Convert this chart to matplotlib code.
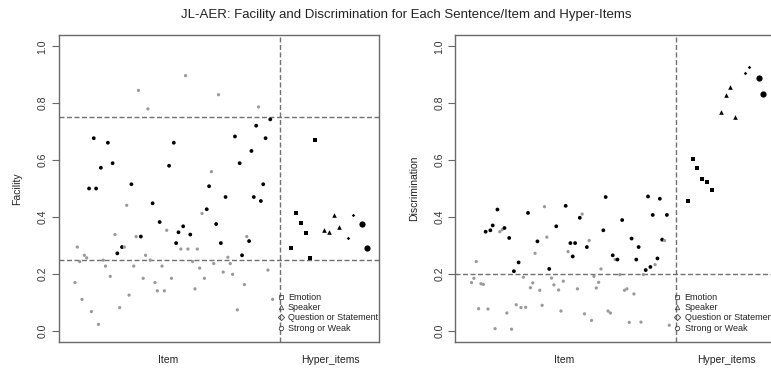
import matplotlib
matplotlib.use("Agg")
import matplotlib.pyplot as plt
from matplotlib.lines import Line2D
import numpy as np

plt.rcParams['font.family'] = ['Liberation Sans', 'DejaVu Sans']

# ---------------- data ----------------
item_facility = [
    0.169, 0.294, 0.243, 0.110, 0.265, 0.256, 0.500, 0.067, 0.677, 0.500,
    0.022, 0.573, 0.248, 0.227, 0.661, 0.191, 0.589, 0.338, 0.272, 0.081,
    0.294, 0.294, 0.441, 0.125, 0.515, 0.227, 0.331, 0.845, 0.331, 0.184,
    0.265, 0.780, 0.248, 0.448, 0.169, 0.140, 0.382, 0.227, 0.140, 0.353,
    0.580, 0.184, 0.661, 0.308, 0.346, 0.287, 0.367, 0.897, 0.287, 0.338,
    0.243, 0.147, 0.287, 0.220, 0.412, 0.184, 0.427, 0.508, 0.559, 0.236,
    0.375, 0.830, 0.308, 0.206, 0.470, 0.258, 0.236, 0.198, 0.683, 0.073,
    0.589, 0.265, 0.162, 0.331, 0.315, 0.632, 0.470, 0.721, 0.787, 0.456,
    0.515, 0.677, 0.213, 0.743, 0.110,
]
item_discrimination = [
    0.169, 0.184, 0.243, 0.077, 0.165, 0.163, 0.348, 0.076, 0.353, 0.370,
    0.007, 0.426, 0.348, 0.355, 0.361, 0.062, 0.326, 0.005, 0.209, 0.091,
    0.240, 0.081, 0.188, 0.082, 0.414, 0.151, 0.168, 0.272, 0.314, 0.142,
    0.089, 0.436, 0.329, 0.217, 0.185, 0.161, 0.367, 0.143, 0.069, 0.174,
    0.439, 0.278, 0.308, 0.261, 0.308, 0.147, 0.397, 0.410, 0.059, 0.294,
    0.317, 0.036, 0.191, 0.150, 0.170, 0.217, 0.353, 0.470, 0.069, 0.062,
    0.265, 0.250, 0.250, 0.197, 0.389, 0.142, 0.147, 0.029, 0.324, 0.129,
    0.250, 0.294, 0.030, 0.197, 0.213, 0.472, 0.224, 0.407, 0.232, 0.254,
    0.464, 0.320, 0.317, 0.407, 0.019,
]
item_index = list(range(1, len(item_facility) + 1))

hyper_groups = ["Emotion", "Speaker", "Question or Statement", "Strong or Weak"]
hyper_index = {
    "Emotion": [93, 95, 97, 99, 101, 103],
    "Speaker": [107, 109, 111, 113],
    "Question or Statement": [117, 119],
    "Strong or Weak": [123, 125],
}
hyper_facility = {
    "Emotion": [0.291, 0.414, 0.378, 0.344, 0.256, 0.670],
    "Speaker": [0.354, 0.347, 0.408, 0.363],
    "Question or Statement": [0.325, 0.408],
    "Strong or Weak": [0.376, 0.291],
}
hyper_discrimination = {
    "Emotion": [0.455, 0.604, 0.572, 0.535, 0.522, 0.495],
    "Speaker": [0.770, 0.828, 0.858, 0.752],
    "Question or Statement": [0.905, 0.929],
    "Strong or Weak": [0.890, 0.834],
}

fac_low, fac_high = 0.25, 0.75
disc_cut = 0.20
split_at = 88
y_ticks = [0.0, 0.2, 0.4, 0.6, 0.8, 1.0]
y_ticklabels = ["0.0", "0.2", "0.4", "0.6", "0.8", "1.0"]
title = "JL-AER: Facility and Discrimination for Each Sentence/Item and Hyper-Items"

# ---------------- style ----------------
W, H = 771, 374
fig = plt.figure(figsize=(W / 100, H / 100), dpi=100)
ax_l = fig.add_axes([58.7 / W, (H - 342) / H, 320.3 / W, 307 / H])
ax_r = fig.add_axes([455.3 / W, (H - 342) / H, 320.3 / W, 307 / H])

fac = np.array(item_facility)
disc = np.array(item_discrimination)
good = (fac > fac_low) & (fac < fac_high) & (disc > disc_cut)
colors = np.where(good, "black", "#9a9a9a")
sizes = np.where(good, 7.5, 5.5)

markers = {"Emotion": "s", "Speaker": "^", "Question or Statement": "D",
           "Strong or Weak": "o"}
msizes = {"Emotion": 9, "Speaker": 11, "Question or Statement": 3,
          "Strong or Weak": 20}
legend_markers = {"Emotion": "s", "Speaker": "^", "Question or Statement": "D",
                  "Strong or Weak": "o"}

dash = (0, (3.6, 1.8))
grey_line = "#707070"

for ax, vals, hvals, ylabel, hlines in [
    (ax_l, fac, hyper_facility, "Facility", [fac_low, fac_high]),
    (ax_r, disc, hyper_discrimination, "Discrimination", [disc_cut]),
]:
    ax.scatter(item_index, vals, s=sizes, c=colors, linewidths=0, zorder=3)
    for g in hyper_groups:
        ax.scatter(hyper_index[g], hvals[g], s=msizes[g], marker=markers[g],
                   c="black", linewidths=0, zorder=3)
    for h in hlines:
        ax.axhline(h, color=grey_line, lw=1.0, linestyle=dash, zorder=2)
    ax.axvline(split_at, color=grey_line, lw=1.0, linestyle=dash, zorder=2)

    ax.set_xlim(-5.9, 130.2)
    ax.set_ylim(-0.04, 1.04)
    ax.set_xticks([])
    ax.set_yticks(y_ticks)
    ax.set_yticklabels(y_ticklabels, rotation=90, va="center",
                       fontsize=7.5, color="#333333")
    ax.tick_params(axis="y", length=5, width=0.8, color="#666666", pad=3)
    for s in ax.spines.values():
        s.set_color("#6a6a6a")
        s.set_linewidth(1.0)
    ax.set_ylabel(ylabel, fontsize=7.5, color="#222222", labelpad=11)

    tr = matplotlib.transforms.blended_transform_factory(ax.transData, ax.transAxes)
    ax.text(40.5, -0.06, "Item", transform=tr, ha="center", va="center",
            fontsize=7.5, color="#222222")
    ax.text(109.5, -0.06, "Hyper_items", transform=tr, ha="center", va="center",
            fontsize=7.5, color="#222222")

    handles = [Line2D([], [], linestyle="none", marker=legend_markers[g],
                      markersize=3.2, markerfacecolor="none",
                      markeredgecolor="#444444", markeredgewidth=0.6,
                      label=g) for g in hyper_groups]
    ax.legend(handles=handles, loc="lower left",
              bbox_to_anchor=(0.685, 0.03), frameon=False, fontsize=6.5,
              handlelength=0.6, handletextpad=0.5, labelspacing=0.15,
              borderaxespad=0, borderpad=0, labelcolor="#222222")

fig.text(406 / W, 1 - 15 / H, title, ha="center", va="center",
         fontsize=9.5, color="#222222")

fig.savefig("out.png", dpi=100)
